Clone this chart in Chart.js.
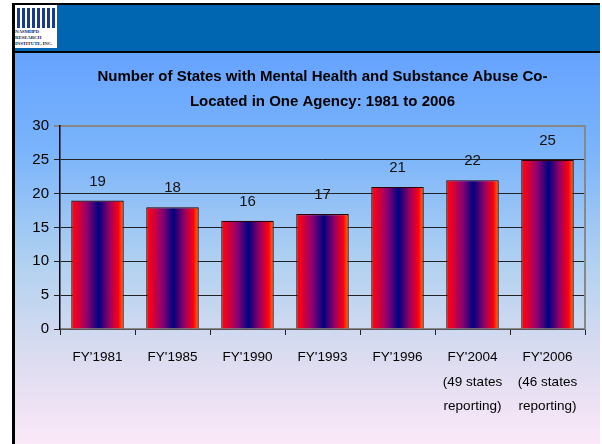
<!DOCTYPE html>
<html>
<head>
<meta charset="utf-8">
<script src="https://cdn.jsdelivr.net/npm/chart.js@4.4.1/dist/chart.umd.min.js"></script>
<style>
  html, body { margin: 0; padding: 0; width: 602px; height: 444px; overflow: hidden; background: #ffffff; }
  #frame { position: absolute; left: 12px; top: 3px; width: 588px; height: 441px; border-left: 3px solid #000; border-top: 2px solid #000; border-right: 1px solid #222; box-sizing: border-box; }
  #header { position: absolute; left: 15px; top: 5px; width: 585px; height: 46px; background: #0066b2; border-bottom: 2px solid #000; }
  #content { position: absolute; left: 15px; top: 53px; width: 585px; height: 391px; background: linear-gradient(to bottom, #66a3ff 0%, #7ab4fb 25%, #b3d2f0 55%, #dcdcf0 78%, #fbe8f8 100%); }
  #logo { position: absolute; left: 15px; top: 5px; width: 42px; height: 43px; background: #fff; overflow: hidden; }
  #logo .bars { position: absolute; left: 2px; top: 3px; width: 38px; height: 20px; background: repeating-linear-gradient(to right, #1a3a8a 0 3px, #ffffff 3px 5px); }
  #logo .txt { position: absolute; left: 0; top: 24px; width: 42px; font: bold 5px "Liberation Serif", serif; line-height: 6px; color: #1a2a5a; letter-spacing: -0.2px; white-space: nowrap; }
  #chartbox { position: absolute; left: 14px; top: 53px; width: 586px; height: 391px; }
</style>
</head>
<body>
<div id="frame"></div>
<div id="header"></div>
<div id="logo"><div class="bars"></div><div class="txt">NASMHPD<br>RESEARCH<br>INSTITUTE, INC.</div></div>
<div id="content"></div>
<div id="chartbox"><canvas id="c" width="586" height="391"></canvas></div>
<script>
const categories = [
  "FY'1981",
  "FY'1985",
  "FY'1990",
  "FY'1993",
  "FY'1996",
  ["FY'2004", "(49 states", "reporting)"],
  ["FY'2006", "(46 states", "reporting)"]
];
const statesCoLocated = [19, 18, 16, 17, 21, 22, 25];
const yTicks = [0, 5, 10, 15, 20, 25, 30];
const titleLines = [
  "Number of States with Mental Health and Substance Abuse Co-",
  "Located in One Agency: 1981 to 2006"
];

const sans = '"Liberation Sans", Arial, sans-serif';

function barGradient(context) {
  const chart = context.chart;
  const xs = chart.scales && chart.scales.x;
  const area = chart.chartArea;
  if (!xs || !area || context.dataIndex === undefined) return '#800080';
  const cx = xs.getPixelForValue(context.dataIndex);
  const catW = (area.right - area.left) / categories.length;
  const half = catW * 0.7 / 2;
  const g = chart.ctx.createLinearGradient(cx - half, 0, cx + half, 0);
  g.addColorStop(0, '#ff0a00');
  g.addColorStop(0.08, '#f00020');
  g.addColorStop(0.3, '#900070');
  g.addColorStop(0.52, '#000080');
  g.addColorStop(0.72, '#900068');
  g.addColorStop(0.9, '#ff0010');
  g.addColorStop(0.96, '#ff5000');
  g.addColorStop(1, '#ff2000');
  return g;
}

const valueLabels = {
  id: 'valueLabels',
  afterDatasetsDraw(chart) {
    const ctx = chart.ctx;
    const meta = chart.getDatasetMeta(0);
    ctx.save();
    ctx.font = '15px ' + sans;
    ctx.fillStyle = '#111';
    ctx.textAlign = 'center';
    ctx.textBaseline = 'middle';
    meta.data.forEach((bar, i) => {
      ctx.fillText(String(statesCoLocated[i]), bar.x, bar.y - 19);
    });
    ctx.restore();
  }
};

const rightBorder = {
  id: 'rightBorder',
  afterDraw(chart) {
    const a = chart.chartArea;
    if (!a) return;
    const ctx = chart.ctx;
    ctx.save();
    ctx.strokeStyle = '#888888';
    ctx.lineWidth = 2;
    ctx.beginPath();
    ctx.moveTo(a.right, a.top - 1);
    ctx.lineTo(a.right, a.bottom);
    ctx.stroke();
    ctx.restore();
  }
};

new Chart(document.getElementById('c'), {
  type: 'bar',
  data: {
    labels: categories,
    datasets: [{
      data: statesCoLocated,
      backgroundColor: barGradient,
      borderColor: '#2a0000',
      borderWidth: 1.2,
      borderSkipped: 'bottom',
      categoryPercentage: 1,
      barPercentage: 0.7
    }]
  },
  options: {
    responsive: false,
    animation: false,
    layout: { padding: { left: 0, right: 15, top: 0, bottom: 0 } },
    plugins: {
      legend: { display: false },
      tooltip: { enabled: false },
      title: {
        display: true,
        text: titleLines,
        fullSize: false,
        color: '#000',
        font: { family: sans, size: 15, weight: 'bold', lineHeight: 1.7 },
        padding: { top: 11, bottom: 11 }
      }
    },
    scales: {
      x: {
        grid: { display: true, drawOnChartArea: false, offset: true, tickLength: 6, color: '#222', lineWidth: 1 },
        border: { display: true, color: '#888', width: 1.5 },
        ticks: {
          color: '#000',
          font: { family: sans, size: 13.5, lineHeight: 1.83 },
          padding: 10,
          maxRotation: 0,
          autoSkip: false
        },
        afterFit(scale) { scale.height = 115; }
      },
      y: {
        min: 0,
        max: 30,
        afterBuildTicks(scale) { scale.ticks = yTicks.map(v => ({ value: v })); },
        grid: {
          color: (c) => (c.tick && c.tick.value === 30) ? '#888888' : '#222222',
          lineWidth: (c) => (c.tick && c.tick.value === 30) ? 2 : 1,
          tickLength: 6
        },
        border: { display: true, color: '#000', width: 1.5 },
        ticks: {
          color: '#000',
          font: { family: sans, size: 15 },
          padding: 5
        },
        afterFit(scale) { scale.width = 46; }
      }
    }
  },
  plugins: [valueLabels, rightBorder]
});
</script>
</body>
</html>
